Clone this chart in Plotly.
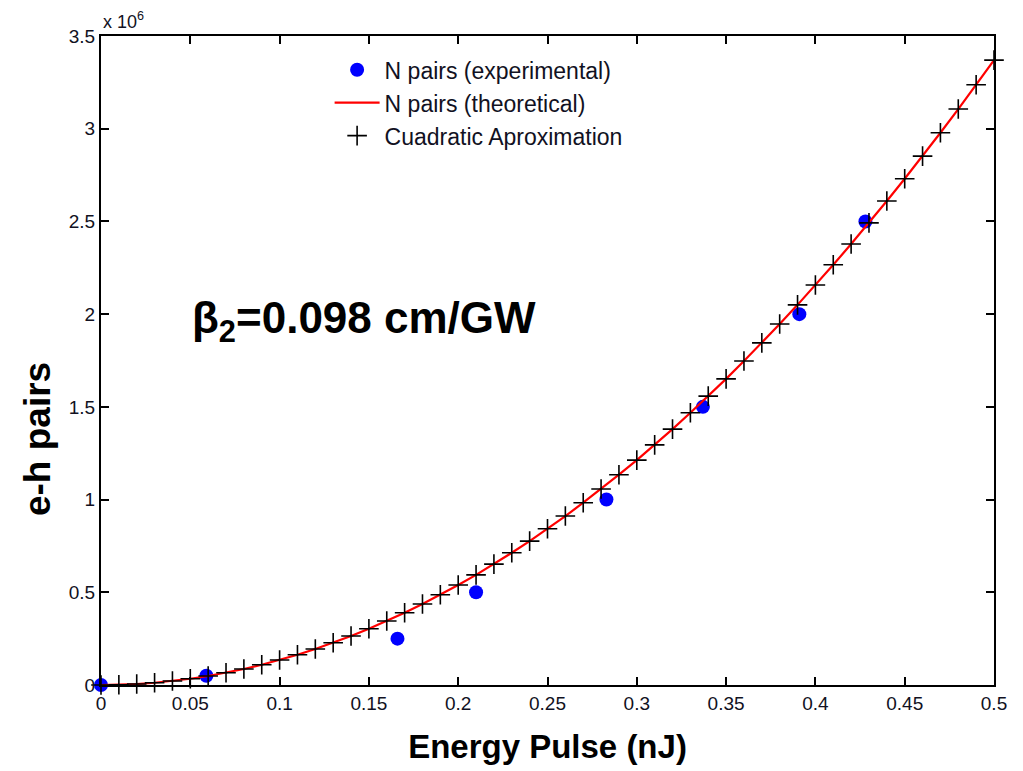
import plotly.graph_objects as go

# Experimental points (x in nJ, y in units of 1e6 pairs)
exp_x = [0.0, 0.059, 0.166, 0.210, 0.283, 0.337, 0.391, 0.428]
exp_y = [0.0, 0.05, 0.25, 0.50, 1.00, 1.50, 2.00, 2.50]

# Theoretical curve / quadratic approximation samples (x in nJ, y in 1e6 pairs)
fit_x = [0.00, 0.01, 0.02, 0.03, 0.04, 0.05, 0.06, 0.07, 0.08, 0.09,
         0.10, 0.11, 0.12, 0.13, 0.14, 0.15, 0.16, 0.17, 0.18, 0.19,
         0.20, 0.21, 0.22, 0.23, 0.24, 0.25, 0.26, 0.27, 0.28, 0.29,
         0.30, 0.31, 0.32, 0.33, 0.34, 0.35, 0.36, 0.37, 0.38, 0.39,
         0.40, 0.41, 0.42, 0.43, 0.44, 0.45, 0.46, 0.47, 0.48, 0.49, 0.50]
theo_y = [0.0, 0.00135, 0.0054, 0.0121, 0.0216, 0.0337, 0.0485, 0.0661, 0.0863, 0.109,
          0.135, 0.163, 0.194, 0.228, 0.264, 0.303, 0.345, 0.390, 0.437, 0.487,
          0.539, 0.594, 0.652, 0.713, 0.776, 0.843, 0.911, 0.983, 1.057, 1.134,
          1.213, 1.295, 1.380, 1.468, 1.558, 1.651, 1.747, 1.845, 1.947, 2.050,
          2.157, 2.266, 2.378, 2.492, 2.610, 2.730, 2.852, 2.978, 3.106, 3.237, 3.370]
quad_y = [0.0, 0.00135, 0.0054, 0.0121, 0.0216, 0.0337, 0.0485, 0.0661, 0.0863, 0.109,
          0.135, 0.163, 0.194, 0.228, 0.264, 0.303, 0.345, 0.390, 0.437, 0.487,
          0.539, 0.594, 0.652, 0.713, 0.776, 0.843, 0.911, 0.983, 1.057, 1.134,
          1.213, 1.295, 1.380, 1.468, 1.558, 1.651, 1.747, 1.845, 1.947, 2.050,
          2.157, 2.266, 2.378, 2.492, 2.610, 2.730, 2.852, 2.978, 3.106, 3.237, 3.370]

x_ticks = [0, 0.05, 0.1, 0.15, 0.2, 0.25, 0.3, 0.35, 0.4, 0.45, 0.5]
x_labels = ["0", "0.05", "0.1", "0.15", "0.2", "0.25", "0.3", "0.35", "0.4", "0.45", "0.5"]
y_ticks = [0, 0.5, 1, 1.5, 2, 2.5, 3, 3.5]
y_labels = ["0", "0.5", "1", "1.5", "2", "2.5", "3", "3.5"]

FONT = "Liberation Sans, Arial, sans-serif"
TXT = "#111122"

fig = go.Figure()
fig.add_trace(go.Scatter(
    x=exp_x, y=exp_y, mode="markers", name="N pairs (experimental)",
    marker=dict(color="#0000ff", size=14, symbol="circle"), cliponaxis=False,
))
fig.add_trace(go.Scatter(
    x=fit_x, y=theo_y, mode="lines", name="N pairs (theoretical)",
    line=dict(color="#ff0000", width=2.2), cliponaxis=False,
))
fig.add_trace(go.Scatter(
    x=fit_x, y=quad_y, mode="markers", name="Cuadratic Aproximation",
    marker=dict(symbol="cross-thin", size=14, color="black",
                line=dict(color="black", width=1.6)), cliponaxis=False,
))

axis_common = dict(
    showline=True, linecolor="black", linewidth=2, mirror="ticks",
    ticks="inside", ticklen=8, tickwidth=1.5, tickcolor="black",
    showgrid=False, zeroline=False,
    tickfont=dict(family=FONT, size=19, color=TXT),
)

fig.update_xaxes(range=[0, 0.5], tickvals=x_ticks, ticktext=x_labels,
                 title=dict(text="<b>Energy Pulse (nJ)</b>", standoff=22,
                            font=dict(family=FONT, size=33, color="black")),
                 **axis_common)
fig.update_yaxes(range=[0, 3.5], tickvals=y_ticks, ticktext=y_labels,
                 **axis_common)

fig.add_annotation(x=0, y=0.379, xref="paper", yref="paper", xanchor="center", yanchor="middle",
                   xshift=-64, textangle=-90,
                   text="<b>e-h pairs</b>", showarrow=False,
                   font=dict(family=FONT, size=37, color="black"))
fig.add_annotation(x=0, y=1, xref="paper", yref="paper", xanchor="left", yanchor="bottom",
                   text="x 10<sup>6</sup>", showarrow=False, yshift=2,
                   font=dict(family=FONT, size=18, color=TXT))
fig.add_annotation(x=0.100, y=0.561, xref="paper", yref="paper", xanchor="left", yanchor="middle",
                   text="<b>β<sub>2</sub>=0.098 cm/GW</b>", showarrow=False,
                   font=dict(family=FONT, size=44, color="black"))

fig.update_layout(
    width=1015, height=763,
    margin=dict(l=93, r=29, t=28, b=84),
    paper_bgcolor="white", plot_bgcolor="white",
    showlegend=True,
    legend=dict(x=0.256, y=0.981, xanchor="left", yanchor="top",
                bgcolor="rgba(0,0,0,0)", borderwidth=0, itemwidth=45,
                tracegroupgap=0,
                font=dict(family=FONT, size=23, color=TXT)),
)

fig.write_html("out.html")
